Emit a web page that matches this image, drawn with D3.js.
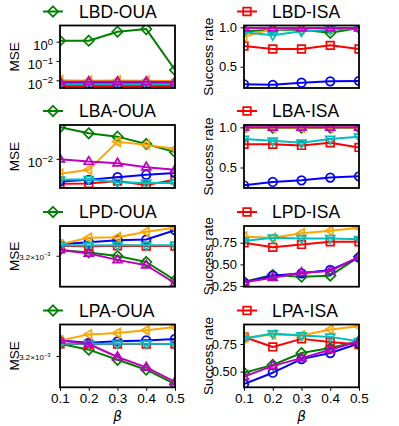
<!DOCTYPE html>
<html><head><meta charset="utf-8">
<script src="https://cdn.jsdelivr.net/npm/d3@7"></script>
<style>body{margin:0;background:#fff}</style>
</head><body>
<script>
const betas = [0.1, 0.2, 0.3, 0.4, 0.5];
const xTicks = [0.1, 0.2, 0.3, 0.4, 0.5];
// series order: green diamond, red square, blue circle, orange left-tri, cyan down-tri, magenta up-tri
const seriesColors = ["#008000", "#ff0000", "#0000ff", "#ffa500", "#00bfbf", "#bf00bf"];
const seriesMarkers = ["D", "s", "o", "<", "v", "^"];
const panelTitles = ["LBD-OUA", "LBD-ISA", "LBA-OUA", "LBA-ISA", "LPD-OUA", "LPD-ISA", "LPA-OUA", "LPA-ISA"];
const legendSeries = [0, 1, 0, 1, 0, 1, 0, 1];

const lbdOua = [
  [1.12, 1.12, 3.3, 4.5, 0.034],
  [0.0051, 0.0051, 0.0051, 0.0051, 0.0051],
  [0.0072, 0.0072, 0.0072, 0.0072, 0.0072],
  [0.0100, 0.0095, 0.0098, 0.0095, 0.0092],
  [0.0062, 0.0062, 0.0062, 0.0062, 0.0062],
  [0.0085, 0.0085, 0.0084, 0.0083, 0.0082]
];
const lbdIsa = [
  [0.95, 0.97, 0.97, 0.93, 0.99],
  [0.763, 0.725, 0.725, 0.771, 0.725],
  [0.277, 0.27, 0.297, 0.315, 0.32],
  [0.88, 0.98, 0.99, 0.99, 0.99],
  [0.937, 0.90, 0.95, 0.97, 0.99],
  [0.99, 0.99, 0.99, 0.99, 0.99]
];
const lbaOua = [
  [0.0506, 0.0372, 0.0313, 0.0215, 0.0141],
  [0.00278, 0.0028, 0.0032, 0.0026, 0.0034],
  [0.00313, 0.0034, 0.0039, 0.0044, 0.0048],
  [0.00464, 0.0057, 0.0242, 0.0205, 0.0167],
  [0.0034, 0.0035, 0.0030, 0.0029, 0.0029],
  [0.0098, 0.0087, 0.0080, 0.0065, 0.0057]
];
const lbaIsa = [
  [0.995, 0.995, 0.995, 0.995, 0.995],
  [0.79, 0.79, 0.775, 0.808, 0.75],
  [0.279, 0.32, 0.34, 0.375, 0.39],
  [0.998, 0.998, 0.998, 0.998, 0.998],
  [0.854, 0.833, 0.808, 0.854, 0.883],
  [1.0, 1.0, 1.0, 1.0, 1.0]
];
const lpdOua = [
  [0.00338, 0.0033, 0.00319, 0.00302, 0.00255],
  [0.00351, 0.00349, 0.00351, 0.0035, 0.0035],
  [0.00356, 0.00363, 0.0037, 0.00372, 0.00406],
  [0.00356, 0.00378, 0.0038, 0.0040, 0.00415],
  [0.00353, 0.00352, 0.00353, 0.00353, 0.00353],
  [0.00338, 0.00327, 0.00308, 0.00293, 0.00248]
];
const lpdIsa = [
  [0.30, 0.377, 0.357, 0.369, 0.588],
  [0.75, 0.697, 0.73, 0.76, 0.76],
  [0.293, 0.369, 0.397, 0.435, 0.577],
  [0.819, 0.808, 0.858, 0.889, 0.923],
  [0.77, 0.808, 0.80, 0.80, 0.79],
  [0.293, 0.346, 0.404, 0.423, 0.588]
];
const lpaOua = [
  [0.00358, 0.00339, 0.00309, 0.00282, 0.00247],
  [0.00358, 0.00356, 0.00357, 0.00357, 0.00357],
  [0.00369, 0.00361, 0.00366, 0.00369, 0.00374],
  [0.00369, 0.0039, 0.00395, 0.00405, 0.00417],
  [0.00358, 0.00358, 0.00358, 0.00358, 0.00357],
  [0.0037, 0.00357, 0.00317, 0.00288, 0.00252]
];
const lpaIsa = [
  [0.49, 0.561, 0.668, 0.713, 0.774],
  [0.814, 0.723, 0.796, 0.768, 0.744],
  [0.388, 0.49, 0.613, 0.668, 0.755],
  [0.805, 0.835, 0.826, 0.88, 0.91],
  [0.796, 0.844, 0.826, 0.814, 0.774],
  [0.454, 0.552, 0.622, 0.698, 0.774]
];
const panelData = [lbdOua, lbdIsa, lbaOua, lbaIsa, lpdOua, lpdIsa, lpaOua, lpaIsa];
const yDomains = [
  [0.00399, 6.9], [0.23, 1.023],
  [0.00223, 0.057], [0.245, 1.029],
  [0.0024, 0.00422], [0.242, 0.943],
  [0.0024, 0.00427], [0.358, 0.926]
];
const yTickValues = [
  [1, 0.1, 0.01], [1.0, 0.5],
  [0.01], [1.0, 0.5],
  [0.0032], [0.75, 0.5, 0.25],
  [0.0032], [0.75, 0.5]
];
// tick labels: [base, exponent] for log panels; plain strings otherwise
const yTickLabels = [
  [["10", "0"], ["10", "\u22121"], ["10", "\u22122"]], ["1.0", "0.5"],
  [["10", "\u22122"]], ["1.0", "0.5"],
  [["3.2\u00d710", "\u22123"]], ["0.75", "0.50", "0.25"],
  [["3.2\u00d710", "\u22123"]], ["0.75", "0.50"]
];
const yLabels = ["MSE", "Success rate"];

const W = 399, H = 426;
const font = "'Liberation Sans', Arial, sans-serif";
const colX = [[60, 175], [244, 359]];
const rowY = [[25.5, 88], [125, 188], [226, 286.7], [324.5, 387.3]];

const svg = d3.select("body").append("svg").attr("width", W).attr("height", H)
  .style("font-family", font);

function markerPath(m, s) {
  switch (m) {
    case "D": return `M0,${-s*1.15}L${s*1.15},0L0,${s*1.15}L${-s*1.15},0Z`;
    case "s": return `M${-s*0.85},${-s*0.85}H${s*0.85}V${s*0.85}H${-s*0.85}Z`;
    case "o": { const r = s*0.95; return `M${r},0A${r},${r} 0 1,1 ${-r},0A${r},${r} 0 1,1 ${r},0Z`; }
    case "^": return `M0,${-s*1.1}L${s*1.0},${s*0.6}L${-s*1.0},${s*0.6}Z`;
    case "v": return `M0,${s*1.1}L${s*1.0},${-s*0.6}L${-s*1.0},${-s*0.6}Z`;
    case "<": return `M${-s*1.1},0L${s*0.6},${s*1.0}L${s*0.6},${-s*1.0}Z`;
  }
}

panelData.forEach((data, p) => {
  const row = Math.floor(p / 2), col = p % 2;
  const [x0, x1] = colX[col], [y0, y1] = rowY[row];
  const x = d3.scaleLinear().domain([0.1, 0.5]).range([x0, x1]);
  const y = (col === 0 ? d3.scaleLog() : d3.scaleLinear()).domain(yDomains[p]).range([y1, y0]);
  const g = svg.append("g");
  const clipId = "clip" + p;
  g.append("clipPath").attr("id", clipId).append("rect")
    .attr("x", x0).attr("y", y0).attr("width", x1 - x0).attr("height", y1 - y0);
  const plot = g.append("g").attr("clip-path", `url(#${clipId})`);
  const line = d3.line().x((d, i) => x(betas[i])).y(d => y(d));
  data.forEach((vals, s) => {
    const sg = plot.append("g");
    sg.append("path").attr("d", line(vals)).attr("fill", "none")
      .attr("stroke", seriesColors[s]).attr("stroke-width", 2).attr("stroke-linejoin", "round");
    sg.selectAll("path.m").data(vals).enter().append("path").attr("class", "m")
      .attr("transform", (d, i) => `translate(${x(betas[i])},${y(d)})`)
      .attr("d", markerPath(seriesMarkers[s], 4.5))
      .attr("fill", "none").attr("stroke", seriesColors[s]).attr("stroke-width", 1.7);
  });
  // frame
  g.append("rect").attr("x", x0).attr("y", y0).attr("width", x1 - x0).attr("height", y1 - y0)
    .attr("fill", "none").attr("stroke", "#000").attr("stroke-width", 1.8);
  // y axis
  const small = row >= 2 && col === 0;
  const ya = g.append("g").attr("transform", `translate(${x0},0)`)
    .call(d3.axisLeft(y).tickValues(yTickValues[p]).tickSize(3.5).tickPadding(small ? 6 : 3.5).tickFormat(() => ""));
  ya.select(".domain").remove();
  ya.selectAll("line").attr("stroke", "#000").attr("stroke-width", 1);
  ya.selectAll(".tick text").each(function (d, i) {
    const lab = yTickLabels[p][i];
    const t = d3.select(this).attr("fill", "#000").attr("font-family", font);
    if (Array.isArray(lab)) {
      t.attr("font-size", small ? 8 : 13);
      t.append("tspan").text(lab[0]);
      t.append("tspan").attr("dy", small ? -3.5 : -5.5).attr("font-size", small ? 5.8 : 9.5).text(lab[1]);
      t.attr("dy", small ? "0.45em" : "0.6em");
    } else {
      t.attr("font-size", 13).text(lab);
    }
  });
  // x axis on bottom row only
  if (row === 3) {
    const xa = g.append("g").attr("transform", `translate(0,${y1})`)
      .call(d3.axisBottom(x).tickValues(xTicks).tickSize(3.5).tickPadding(3).tickFormat(d3.format(".1f")));
    xa.select(".domain").remove();
    xa.selectAll("line").attr("stroke", "#000");
    xa.selectAll("text").attr("font-size", 13.5).attr("font-family", font).attr("fill", "#000");
    g.append("text").attr("x", (x0 + x1) / 2).attr("y", 421).attr("text-anchor", "middle")
      .attr("font-family", "'DejaVu Sans', sans-serif").attr("font-style", "italic").attr("font-size", 13.5)
      .text("\u03b2");
  }
  // y label
  const lx = col === 0 ? 14 : 208;
  g.append("text").attr("transform", `translate(${lx},${(y0 + y1) / 2}) rotate(-90)`)
    .attr("text-anchor", "middle").attr("dominant-baseline", "central")
    .attr("font-size", 13.5).text(yLabels[col]);
  // legend
  const ls = legendSeries[p];
  const ly = y0 - 14;
  const lh = col === 0 ? 43 : 237;
  const lg = g.append("g");
  lg.append("line").attr("x1", lh).attr("x2", lh + 20).attr("y1", ly).attr("y2", ly)
    .attr("stroke", seriesColors[ls]).attr("stroke-width", 2);
  lg.append("path").attr("transform", `translate(${lh + 10},${ly})`)
    .attr("d", markerPath(seriesMarkers[ls], 4.5)).attr("fill", "none")
    .attr("stroke", seriesColors[ls]).attr("stroke-width", 1.7);
  lg.append("text").attr("x", col === 0 ? 79 : 272).attr("y", ly).attr("dominant-baseline", "central")
    .attr("font-size", 17.5).text(panelTitles[p]);
});
</script>
</body></html>
